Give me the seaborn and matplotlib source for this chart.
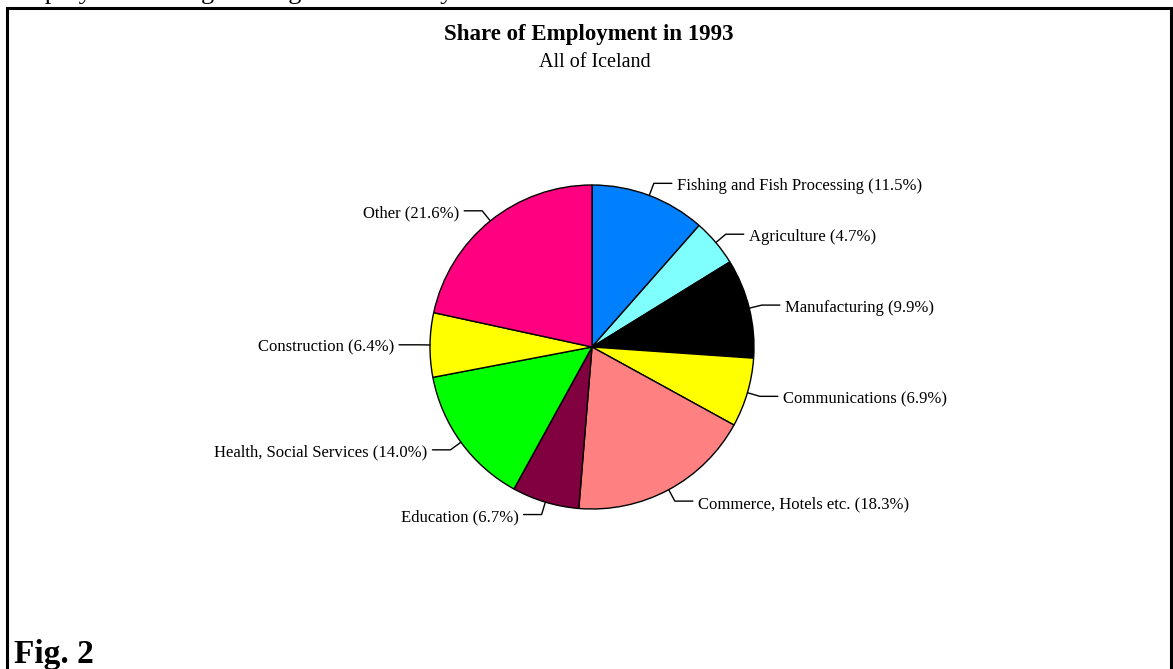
import numpy as np
import matplotlib.pyplot as plt
from matplotlib.patches import Rectangle
import seaborn as sns

# Share of employment by sector, 1993 (percent)
sectors = ['Fishing and Fish Processing', 'Agriculture', 'Manufacturing', 'Communications',
           'Commerce, Hotels etc.', 'Education', 'Health, Social Services', 'Construction', 'Other']
shares = [11.5, 4.7, 9.9, 6.9, 18.3, 6.7, 14.0, 6.4, 21.6]
colors = ['#0080FF', '#80FFFF', '#000000', '#FFFF00', '#FF8080',
          '#800040', '#00FF00', '#FFFF00', '#FF0080']

sns.set_theme(style='white')
plt.rcParams['font.family'] = ['Liberation Serif', 'DejaVu Serif']

W, H = 1173, 669
fig = plt.figure(figsize=(W / 100, H / 100), dpi=100)
ax = fig.add_axes([0, 0, 1, 1])

# pie in pixel units
cx, cy, R = 592, H - 347, 162
wedges, _ = ax.pie(shares, colors=colors, startangle=90, counterclock=False,
                   center=(cx, cy), radius=R,
                   wedgeprops=dict(edgecolor='black', linewidth=1.0))
ax.set_xlim(0, W)
ax.set_ylim(0, H)
ax.set_aspect('equal')
ax.axis('off')

# labels with elbow leader lines
for w, name, val in zip(wedges, sectors, shares):
    ang = np.deg2rad((w.theta1 + w.theta2) / 2)
    c, s = np.cos(ang), np.sin(ang)
    ex, ey = cx + R * c, cy + R * s
    bx, by = cx + 1.08 * R * c, cy + 1.08 * R * s
    side = 1 if c >= 0 else -1
    hx = bx + side * 18
    ax.plot([ex, bx, hx], [ey, by, by], color='black', lw=1.0)
    ax.text(hx + side * 5, by - 3, f'{name} ({val:.1f}%)', ha='left' if side > 0 else 'right',
            va='center', fontsize=12, color='black')

# frame
ax.add_patch(Rectangle((7, -20), 1164, H - 7.5 + 20, fill=False, edgecolor='black',
                       lw=2.2, clip_on=False))

fig.text(589 / W, 1 - 40 / H, 'Share of Employment in 1993', ha='center', va='baseline',
         fontsize=16.5, fontweight='bold', color='black')
fig.text(595 / W, 1 - 67 / H, 'All of Iceland', ha='center', va='baseline',
         fontsize=14.5, color='black')
fig.text(14 / W, 1 - 663 / H, 'Fig. 2', ha='left', va='baseline',
         fontsize=24, fontweight='bold', color='black')
# line of body text cut off by the top edge
fig.text(8 / W, 1 + 1 / H, 'Employment change during the decade by', ha='left', va='baseline',
         fontsize=19, color='black')

fig.savefig('out.png', dpi=100, facecolor='white')
